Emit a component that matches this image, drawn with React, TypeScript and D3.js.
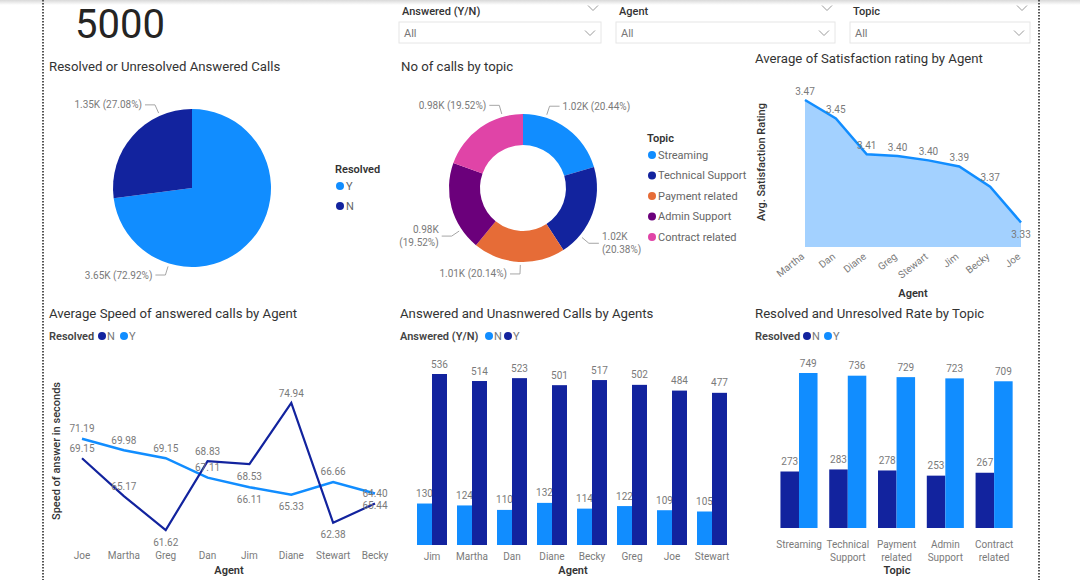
import React from "react";
import * as d3 from "d3";

// ---------- DATA ----------
const totalCalls = 5000;

const resolvedKeys = ["Y", "N"];
const resolvedCounts = [3646, 1354];

const topicNames = ["Streaming", "Technical Support", "Payment related", "Admin Support", "Contract related"];
const topicCounts = [1022, 1019, 1007, 976, 976];

const satAgents = ["Martha", "Dan", "Diane", "Greg", "Stewart", "Jim", "Becky", "Joe"];
const satValues = [3.468, 3.447, 3.406, 3.404, 3.399, 3.392, 3.369, 3.328];

const speedAgents = ["Joe", "Martha", "Greg", "Dan", "Jim", "Diane", "Stewart", "Becky"];
const speedN = [69.15, 65.17, 61.62, 68.83, 68.53, 74.94, 62.38, 64.4];
const speedY = [71.19, 69.98, 69.15, 67.11, 66.11, 65.33, 66.66, 65.44];

const barAgents = ["Jim", "Martha", "Dan", "Diane", "Becky", "Greg", "Joe", "Stewart"];
const answeredN = [130, 124, 110, 132, 114, 122, 109, 105];
const answeredY = [536, 514, 523, 501, 517, 502, 484, 477];

const topicResolvedN = [273, 283, 278, 253, 267];
const topicResolvedY = [749, 736, 729, 723, 709];

// ---------- STYLE ----------
const FONT = "Roboto, 'Segoe UI', sans-serif";
const LIGHT = "#118DFF";
const DARK = "#12239E";
const TITLE = "#333333";
const LABEL = "#7a7a7a";
const topicColors = ["#118DFF", "#12239E", "#E66C37", "#6B007B", "#E044A7"];
const pieColors = [LIGHT, DARK];

// label placement (style config)
const pieLabelAngles = [197, 336];
const donutLabelAngles = [18, 130, 182, 236, 344];
const donutLabelWrap = [false, true, false, true, false];
const speedYLabelPos = ["above", "above", "above", "above", "below", "below", "above", "below"];
const speedNLabelPos = ["above", "above", "below", "above", "below", "above", "below", "above"];

const polar = (cx: number, cy: number, r: number, deg: number): [number, number] => {
  const a = (deg * Math.PI) / 180;
  return [cx + r * Math.sin(a), cy - r * Math.cos(a)];
};

const fmtK = (v: number) => `${d3.format(".2f")(v / 1000)}K`;
const fmtPct = (v: number) => d3.format(".2%")(v / totalCalls);

function Leader({ cx, cy, r, deg, text, wrap }: any) {
  const p0 = polar(cx, cy, r + 3, deg);
  const p1 = polar(cx, cy, r + 12, deg);
  const right = p1[0] >= cx;
  const p2: [number, number] = [p1[0] + (right ? 10 : -10), p1[1]];
  const tx = p2[0] + (right ? 3 : -3);
  const anchor = right ? "start" : "end";
  const [a, b] = text;
  return (
    <g>
      <polyline points={[p0, p1, p2].map((p) => p.join(",")).join(" ")} fill="none" stroke="#a6a6a6" strokeWidth={1} />
      {wrap ? (
        <text x={tx} y={p2[1]} fontSize={10} fill={LABEL} textAnchor={anchor} fontFamily={FONT}>
          <tspan x={tx} dy={-3}>{a}</tspan>
          <tspan x={tx} dy={13}>{b}</tspan>
        </text>
      ) : (
        <text x={tx} y={p2[1]} dy="0.35em" fontSize={10} fill={LABEL} textAnchor={anchor} fontFamily={FONT}>
          {a + " " + b}
        </text>
      )}
    </g>
  );
}

function Chevron({ x, y }: { x: number; y: number }) {
  return <path d={`M${x - 5},${y - 2.5} L${x},${y + 2.5} L${x + 5},${y - 2.5}`} fill="none" stroke="#9a9a9a" strokeWidth={1} />;
}

function Slicer({ x, w, label }: { x: number; w: number; label: string }) {
  return (
    <g fontFamily={FONT}>
      <text x={x + 3} y={11} dy="0.35em" fontSize={11} fill={TITLE} fontWeight={500}>{label}</text>
      <Chevron x={x + w - 8} y={8} />
      <rect x={x} y={22} width={w} height={21} fill="#fff" stroke="#e6e6e6" />
      <text x={x + 5} y={33} dy="0.35em" fontSize={11} fill="#777">All</text>
      <Chevron x={x + w - 11} y={33} />
    </g>
  );
}

function PieChart() {
  const cx = 192, cy = 188, r = 79;
  const arcs = d3.pie<number>().sort(null).value((d) => d)(resolvedCounts);
  const arcGen = d3.arc<d3.PieArcDatum<number>>().innerRadius(0).outerRadius(r);
  return (
    <g fontFamily={FONT}>
      <text x={49} y={66} dy="0.35em" fontSize={13.2} fill={TITLE}>Resolved or Unresolved Answered Calls</text>
      <g transform={`translate(${cx},${cy})`}>
        {arcs.map((a, i) => (
          <path key={i} d={arcGen(a) || ""} fill={pieColors[i]} />
        ))}
      </g>
      {resolvedCounts.map((v, i) => (
        <Leader key={i} cx={cx} cy={cy} r={r} deg={pieLabelAngles[i]} text={[fmtK(v), `(${fmtPct(v)})`]} wrap={false} />
      ))}
      <text x={335} y={169} dy="0.35em" fontSize={11} fontWeight={600} fill={TITLE}>Resolved</text>
      {resolvedKeys.map((k, i) => (
        <g key={k}>
          <circle cx={340} cy={186 + i * 20} r={4} fill={pieColors[i]} />
          <text x={346} y={186 + i * 20} dy="0.35em" fontSize={11} fill="#666">{k}</text>
        </g>
      ))}
    </g>
  );
}

function DonutChart() {
  const cx = 523, cy = 188, r = 74, ri = 43;
  const arcs = d3.pie<number>().sort(null).value((d) => d)(topicCounts);
  const arcGen = d3.arc<d3.PieArcDatum<number>>().innerRadius(ri).outerRadius(r);
  return (
    <g fontFamily={FONT}>
      <text x={401} y={66} dy="0.35em" fontSize={13.2} fill={TITLE}>No of calls by topic</text>
      <g transform={`translate(${cx},${cy})`}>
        {arcs.map((a, i) => (
          <path key={i} d={arcGen(a) || ""} fill={topicColors[i]} />
        ))}
      </g>
      {topicCounts.map((v, i) => (
        <Leader key={i} cx={cx} cy={cy} r={r} deg={donutLabelAngles[i]} text={[fmtK(v), `(${fmtPct(v)})`]} wrap={donutLabelWrap[i]} />
      ))}
      <text x={647} y={138} dy="0.35em" fontSize={11} fontWeight={600} fill={TITLE}>Topic</text>
      {topicNames.map((k, i) => (
        <g key={k}>
          <circle cx={652} cy={155 + i * 20.5} r={4} fill={topicColors[i]} />
          <text x={658} y={155 + i * 20.5} dy="0.35em" fontSize={11} fill="#666">{k}</text>
        </g>
      ))}
    </g>
  );
}

function AreaChart() {
  const x = d3.scalePoint<string>().domain(satAgents).range([805, 1021]);
  const y = d3.scaleLinear().domain([3.3, d3.max(satValues) as number]).range([247, 100]);
  const area = d3.area<number>().x((_, i) => x(satAgents[i]) as number).y0(y(3.3)).y1((d) => y(d));
  const line = d3.line<number>().x((_, i) => x(satAgents[i]) as number).y((d) => y(d));
  return (
    <g fontFamily={FONT}>
      <text x={755} y={58} dy="0.35em" fontSize={13.2} fill={TITLE}>Average of Satisfaction rating by Agent</text>
      <path d={area(satValues) || ""} fill="#A3D1FF" />
      <path d={line(satValues) || ""} fill="none" stroke={LIGHT} strokeWidth={2.5} />
      {satValues.map((v, i) => {
        const last = i === satValues.length - 1;
        return (
          <text key={i} x={x(satAgents[i]) as number} y={y(v) + (last ? 12 : -9)} dy="0.35em" textAnchor="middle" fontSize={10} fill={LABEL}>
            {d3.format(".2f")(v)}
          </text>
        );
      })}
      {satAgents.map((a) => (
        <text key={a} transform={`translate(${(x(a) as number) - 2},${255}) rotate(-38)`} textAnchor="end" dy="0.35em" fontSize={10} fill={LABEL}>
          {a}
        </text>
      ))}
      <text transform={`translate(761,162) rotate(-90)`} textAnchor="middle" dy="0.35em" fontSize={11} fontWeight={500} fill={TITLE}>Avg. Satisfaction Rating</text>
      <text x={913} y={293} dy="0.35em" textAnchor="middle" fontSize={11} fontWeight={600} fill={TITLE}>Agent</text>
    </g>
  );
}

function LegendRow({ x, title, items }: { x: number; title: string; items: { k: string; c: string; dx: number }[] }) {
  return (
    <g fontFamily={FONT}>
      <text x={x} y={336} dy="0.35em" fontSize={11} fontWeight={600} fill="#444">{title}</text>
      {items.map((it) => (
        <g key={it.k}>
          <circle cx={it.dx} cy={336} r={4} fill={it.c} />
          <text x={it.dx + 5} y={336} dy="0.35em" fontSize={11} fill="#777">{it.k}</text>
        </g>
      ))}
    </g>
  );
}

function SpeedChart() {
  const x = d3.scalePoint<string>().domain(speedAgents).range([82, 375]);
  const ext = d3.extent([...speedN, ...speedY]) as [number, number];
  const y = d3.scaleLinear().domain(ext).range([530, 403]);
  const line = d3.line<number>().x((_, i) => x(speedAgents[i]) as number).y((d) => y(d));
  const labels = (vals: number[], pos: string[]) =>
    vals.map((v, i) => (
      <text key={i} x={x(speedAgents[i]) as number} y={y(v) + (pos[i] === "above" ? -10 : 12)} dy="0.35em" textAnchor="middle" fontSize={10} fill={LABEL}>
        {d3.format(".2f")(v)}
      </text>
    ));
  return (
    <g fontFamily={FONT}>
      <text x={49} y={313} dy="0.35em" fontSize={13.2} fill={TITLE}>Average Speed of answered calls by Agent</text>
      <LegendRow x={49} title="Resolved" items={[{ k: "N", c: DARK, dx: 102 }, { k: "Y", c: LIGHT, dx: 124 }]} />
      <path d={line(speedY) || ""} fill="none" stroke={LIGHT} strokeWidth={2.5} />
      <path d={line(speedN) || ""} fill="none" stroke={DARK} strokeWidth={2.2} />
      {labels(speedY, speedYLabelPos)}
      {labels(speedN, speedNLabelPos)}
      {speedAgents.map((a) => (
        <text key={a} x={x(a) as number} y={555} dy="0.35em" textAnchor="middle" fontSize={10} fill={LABEL}>{a}</text>
      ))}
      <text transform={`translate(56,451) rotate(-90)`} textAnchor="middle" dy="0.35em" fontSize={11} fontWeight={500} fill={TITLE}>Speed of answer in seconds</text>
      <text x={229} y={570} dy="0.35em" textAnchor="middle" fontSize={11} fontWeight={600} fill={TITLE}>Agent</text>
    </g>
  );
}

function AnsweredBars() {
  const x = d3.scaleBand<string>().domain(barAgents).range([412, 732]).paddingInner(0.25).paddingOuter(0.125);
  const sub = d3.scaleBand<string>().domain(["N", "Y"]).range([0, x.bandwidth()]);
  const y = d3.scaleLinear().domain([0, d3.max(answeredY) as number]).range([545, 374]);
  const series = [
    { k: "N", vals: answeredN, c: LIGHT },
    { k: "Y", vals: answeredY, c: DARK },
  ];
  return (
    <g fontFamily={FONT}>
      <text x={400} y={313} dy="0.35em" fontSize={13.2} fill={TITLE}>Answered and Unasnwered Calls by Agents</text>
      <LegendRow x={400} title="Answered (Y/N)" items={[{ k: "N", c: LIGHT, dx: 489 }, { k: "Y", c: DARK, dx: 508 }]} />
      {series.map((s) =>
        s.vals.map((v, i) => {
          const bx = (x(barAgents[i]) as number) + (sub(s.k) as number);
          return (
            <g key={s.k + i}>
              <rect x={bx} y={y(v)} width={sub.bandwidth()} height={y(0) - y(v)} fill={s.c} />
              <text x={bx + sub.bandwidth() / 2} y={y(v) - 10} dy="0.35em" textAnchor="middle" fontSize={10} fill={LABEL}>{v}</text>
            </g>
          );
        })
      )}
      {barAgents.map((a) => (
        <text key={a} x={(x(a) as number) + x.bandwidth() / 2} y={556} dy="0.35em" textAnchor="middle" fontSize={10} fill={LABEL}>{a}</text>
      ))}
      <text x={573} y={570} dy="0.35em" textAnchor="middle" fontSize={11} fontWeight={600} fill={TITLE}>Agent</text>
    </g>
  );
}

function TopicBars() {
  const x = d3.scaleBand<string>().domain(topicNames).range([774.6, 1018.5]).paddingInner(0.24).paddingOuter(0.12);
  const sub = d3.scaleBand<string>().domain(["N", "Y"]).range([0, x.bandwidth()]);
  const y = d3.scaleLinear().domain([0, d3.max(topicResolvedY) as number]).range([528, 373]);
  const series = [
    { k: "N", vals: topicResolvedN, c: DARK },
    { k: "Y", vals: topicResolvedY, c: LIGHT },
  ];
  return (
    <g fontFamily={FONT}>
      <text x={755} y={313} dy="0.35em" fontSize={13.2} fill={TITLE}>Resolved and Unresolved Rate by Topic</text>
      <LegendRow x={755} title="Resolved" items={[{ k: "N", c: DARK, dx: 807 }, { k: "Y", c: LIGHT, dx: 828 }]} />
      {series.map((s) =>
        s.vals.map((v, i) => {
          const bx = (x(topicNames[i]) as number) + (sub(s.k) as number);
          return (
            <g key={s.k + i}>
              <rect x={bx} y={y(v)} width={sub.bandwidth()} height={y(0) - y(v)} fill={s.c} />
              <text x={bx + sub.bandwidth() / 2} y={y(v) - 10} dy="0.35em" textAnchor="middle" fontSize={10} fill={LABEL}>{v}</text>
            </g>
          );
        })
      )}
      {topicNames.map((t) => {
        const cx = (x(t) as number) + x.bandwidth() / 2;
        return t.split(" ").map((w, j) => (
          <text key={t + j} x={cx} y={544 + j * 13} dy="0.35em" textAnchor="middle" fontSize={10} fill={LABEL}>{w}</text>
        ));
      })}
      <text x={897} y={570} dy="0.35em" textAnchor="middle" fontSize={11} fontWeight={600} fill={TITLE}>Topic</text>
    </g>
  );
}

export default function App() {
  return (
    <svg width={1080} height={580} style={{ position: "absolute", left: 0, top: 0, background: "#fff" }} fontFamily={FONT}>
      <defs>
        <linearGradient id="topShade" x1="0" y1="0" x2="0" y2="1">
          <stop offset="0" stopColor="#d9d9d9" />
          <stop offset="1" stopColor="#ffffff" />
        </linearGradient>
      </defs>
      <rect x={0} y={0} width={1080} height={580} fill="#fff" />
      <rect x={0} y={0} width={1080} height={5} fill="url(#topShade)" />
      <line x1={43} y1={0} x2={43} y2={580} stroke="#555" strokeWidth={2} strokeDasharray="1.5 1.5" />
      <line x1={1039} y1={0} x2={1039} y2={580} stroke="#555" strokeWidth={2} strokeDasharray="1.5 1.5" />
      <text x={75} y={38} fontSize={40} fill="#252423" fontFamily={FONT}>{totalCalls}</text>
      <Slicer x={399} w={202} label="Answered (Y/N)" />
      <Slicer x={616} w={219} label="Agent" />
      <Slicer x={850} w={180} label="Topic" />
      <PieChart />
      <DonutChart />
      <AreaChart />
      <SpeedChart />
      <AnsweredBars />
      <TopicBars />
    </svg>
  );
}
